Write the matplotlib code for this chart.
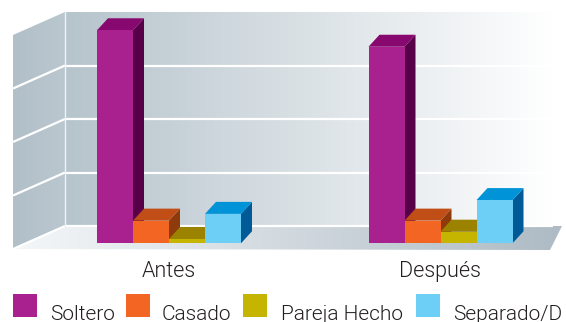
import numpy as np
import matplotlib
matplotlib.use("Agg")
import matplotlib.pyplot as plt
from matplotlib.patches import Polygon, Rectangle
from matplotlib import font_manager
from matplotlib.colors import LinearSegmentedColormap

# ---------------- data ----------------
categories = ["Antes", "Después"]
series = ["Soltero", "Casado", "Pareja Hecho", "Separado/D"]
soltero = [78.9, 72.8]
casado = [8.4, 8.4]
pareja = [1.6, 4.3]
separado = [10.9, 16.0]
grid_ticks = [0, 20, 40, 60, 80]

front_colors = ["#a8218e", "#f26522", "#c5b400", "#6dcff6"]
top_colors = ["#87096f", "#c24e17", "#9b8300", "#0093d7"]
side_colors = ["#570047", "#8e3a0b", "#6d5c00", "#005a98"]

# ---------------- fonts ----------------
plt.rcParams["font.family"] = ["Roboto", "DejaVu Sans"]
plt.rcParams["font.weight"] = 300

W, H = 566, 322
fig = plt.figure(figsize=(W / 100, H / 100), dpi=100)

# background axes in pixel coordinates for the 3D walls (decoration)
bg = fig.add_axes([0, 0, 1, 1])
bg.set_xlim(0, W)
bg.set_ylim(H, 0)
bg.axis("off")

def grad_poly(ax, pts, c0, c1, x0, x1):
    poly = Polygon(pts, closed=True, facecolor="none", edgecolor="none")
    ax.add_patch(poly)
    cmap = LinearSegmentedColormap.from_list("g", [c0, c1])
    img = ax.imshow(np.linspace(0, 1, 256).reshape(1, -1), cmap=cmap, aspect="auto",
                    extent=(x0, x1, H, 0), interpolation="bilinear", zorder=0)
    img.set_clip_path(poly)

back_left, back_right, back_top, back_bottom = 65, 553, 12, 226
left_x, depth_drop = 13, 23
grad_poly(bg, [(back_left, back_top), (back_right, back_top), (back_right, back_bottom), (back_left, back_bottom)],
          "#b6c4cc", "#ffffff", back_left, back_right)
grad_poly(bg, [(left_x, back_top + depth_drop), (back_left, back_top), (back_left, back_bottom), (left_x, back_bottom + depth_drop)],
          "#b1bfc8", "#bac7cf", left_x, back_left)
grad_poly(bg, [(left_x, back_bottom + depth_drop), (550, back_bottom + 24), (562, back_bottom), (back_left, back_bottom)],
          "#f4f7f9", "#aebbc4", left_x, 562)

scale_back = (back_bottom - back_top) / grid_ticks[-1]
for t in grid_ticks[:-1]:
    y = back_bottom - t * scale_back
    bg.plot([back_left, back_right], [y, y], color="white", lw=1.6, zorder=1, solid_capstyle="butt")
    bg.plot([left_x, back_left], [y + depth_drop, y], color="white", lw=1.6, zorder=1, solid_capstyle="butt")
bg.plot([back_left, back_left], [back_top, back_bottom], color="#eef2f4", lw=1.0, zorder=1)

# ---------------- main data axes ----------------
ax = fig.add_axes([0, 0, 1, 1])
ax.patch.set_alpha(0)
ax.axis("off")
cx0, sx = 169.0, 271.5   # pixel center of first group, pixels per category
vy0, sy = 243.3, 2.7     # pixel baseline, pixels per unit
ax.set_xlim((0 - cx0) / sx, (W - cx0) / sx)
ax.set_ylim((vy0 - H) / sy, vy0 / sy)

bar_w = 36 / sx
ddx, ddy = 11 / sx, 12 / sy
values = [soltero, casado, pareja, separado]
n = len(series)
for gi, cat in enumerate(categories):
    for si in range(n):
        v = values[si][gi]
        left = gi + (si - n / 2) * bar_w
        right = left + bar_w
        z = 2 + si
        side = Polygon([(right, 0), (right + ddx, ddy), (right + ddx, v + ddy), (right, v)],
                       closed=True, facecolor=side_colors[si], edgecolor="none", zorder=z)
        top = Polygon([(left, v), (left + ddx, v + ddy), (right + ddx, v + ddy), (right, v)],
                      closed=True, facecolor=top_colors[si], edgecolor="none", zorder=z)
        ax.add_patch(side)
        ax.add_patch(top)
        ax.bar(left, v, width=bar_w, align="edge", color=front_colors[si], zorder=z + 0.1, linewidth=0)

label_base_v = (vy0 - 277) / sy
for gi, cat in enumerate(categories):
    ax.text(gi - 0.001, label_base_v, cat, ha="center", va="baseline", fontsize=15.5, color="#231f20")

# ---------------- legend (manual layout) ----------------
sw_x = [13, 126, 243, 416]
tx_x = [50, 162, 281, 453]
for si, name in enumerate(series):
    fig.patches.append(Rectangle((sw_x[si] / W, 1 - 317 / H), 24 / W, 23 / H,
                                 transform=fig.transFigure, facecolor=front_colors[si],
                                 edgecolor="none"))
    fig.text(tx_x[si] / W, 1 - 319.5 / H, name, ha="left", va="baseline",
             fontsize=15, color="#231f20")

fig.savefig("out.png", dpi=100)
